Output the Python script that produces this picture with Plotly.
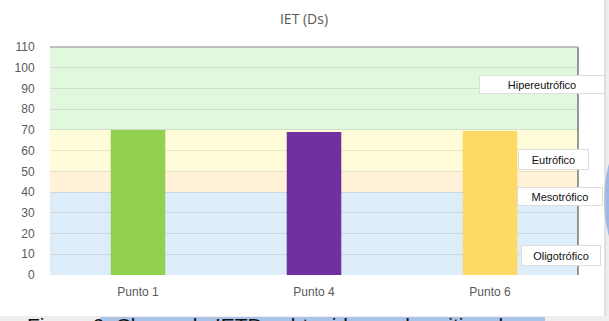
import plotly.graph_objects as go

categories = ["Punto 1", "Punto 4", "Punto 6"]
values = [70, 69, 69.5]
bar_colors = ["#92D050", "#7030A0", "#FFD966"]

band_names = ["Oligotrófico", "Mesotrófico", "Eutrófico", "Hipereutrófico"]
band_low = [0, 40, 50, 70]
band_high = [40, 50, 70, 110]
band_colors = ["#DDEEFA", "#FFF2D9", "#FFFDD9", "#E2F8DE"]
label_y = [9.6, 38.1, 55.5, 91.9]
label_x = [0.968, 0.965, 0.953, 0.932]
label_w = [76, 82, 67, 122]
label_h = [17, 15, 17, 15]

y_ticks = list(range(0, 111, 10))

fig = go.Figure()
fig.add_trace(go.Bar(x=categories, y=values, marker=dict(color=bar_colors, line=dict(width=0)),
                     width=0.31, showlegend=False))

shapes = []
for lo, hi, c in zip(band_low, band_high, band_colors):
    shapes.append(dict(type="rect", xref="paper", yref="y", x0=0, x1=1, y0=lo, y1=hi,
                       fillcolor=c, line=dict(width=0), layer="below"))
# right dark edge
shapes.append(dict(type="line", xref="paper", yref="paper", x0=1, x1=1, y0=0, y1=1,
                   line=dict(color="#595959", width=1.2)))
# top gray line
shapes.append(dict(type="line", xref="paper", yref="paper", x0=0, x1=1, y0=1, y1=1,
                   line=dict(color="#ADADAD", width=1.5)))
# outer frame right strip
shapes.append(dict(type="rect", xref="paper", yref="paper", x0=(605-50)/528, x1=(620-50)/528,
                   y0=-(330-275)/228, y1=(60+275)/228, fillcolor="#EEEEEE",
                   line=dict(width=0), layer="below"))
shapes.append(dict(type="circle", xref="paper", yref="paper", x0=(604-50)/528, x1=(720-50)/528,
                   y0=-(290-275)/228, y1=(275-110)/228, fillcolor="#9DB8E3",
                   line=dict(width=0), layer="below"))
shapes.append(dict(type="line", xref="paper", yref="paper", x0=(605-50)/528, x1=(605-50)/528,
                   y0=-(316-275)/228, y1=(275+10)/228, line=dict(color="#C8C8C8", width=1)))
# bottom caption strip
shapes.append(dict(type="rect", xref="paper", yref="paper", x0=-60/528, x1=(620-50)/528,
                   y0=-(330-275)/228, y1=-(316-275)/228, fillcolor="#EEEEEE",
                   line=dict(width=0), layer="below"))
shapes.append(dict(type="rect", xref="paper", yref="paper", x0=(100-50)/528, x1=(545-50)/528,
                   y0=-(330-275)/228, y1=-(317-275)/228, fillcolor="#A9C4E8",
                   line=dict(width=0), layer="below"))

annotations = []
for name, ly, lx, w, h in zip(band_names, label_y, label_x, label_w, label_h):
    annotations.append(dict(text=name, xref="paper", yref="y", x=lx, y=ly, showarrow=False,
                            font=dict(size=11, color="#111111", family="Liberation Sans"),
                            bgcolor="#FFFFFF", bordercolor="#DDDDDD", borderwidth=1,
                            width=w, height=h, xanchor="center", yanchor="middle"))
annotations.append(dict(text="Figura 6. Clases de IETDs obtenidos en los sitios de",
                        xref="paper", yref="paper", x=(25-50)/528, y=-(312-275)/228,
                        xanchor="left", yanchor="top", showarrow=False,
                        font=dict(size=21, color="#111111", family="Liberation Sans")))

fig.update_layout(
    width=609, height=321,
    margin=dict(l=50, r=31, t=47, b=46),
    paper_bgcolor="#FFFFFF", plot_bgcolor="#FFFFFF",
    title=dict(text="IET (Ds)", x=(304) / 609, xanchor="center", y=1 - 19 / 321, yanchor="middle",
               font=dict(size=14, color="#595959", family="Open Sans")),
    shapes=shapes, annotations=annotations,
    bargap=0.69,
    font=dict(family="Liberation Sans", color="#595959", size=12),
)
fig.update_xaxes(showgrid=False, showline=False, ticks="outside", ticklen=6, tickcolor="rgba(0,0,0,0)",
                 tickfont=dict(size=12, color="#595959"))
fig.update_yaxes(range=[0, 110], tickvals=y_ticks, showgrid=True, gridcolor="rgba(0,0,0,0.09)",
                 gridwidth=1, zeroline=False, showline=False, ticks="outside", ticklen=12,
                 tickcolor="rgba(0,0,0,0)", tickfont=dict(size=12, color="#595959"))

fig.write_html("out.html")
